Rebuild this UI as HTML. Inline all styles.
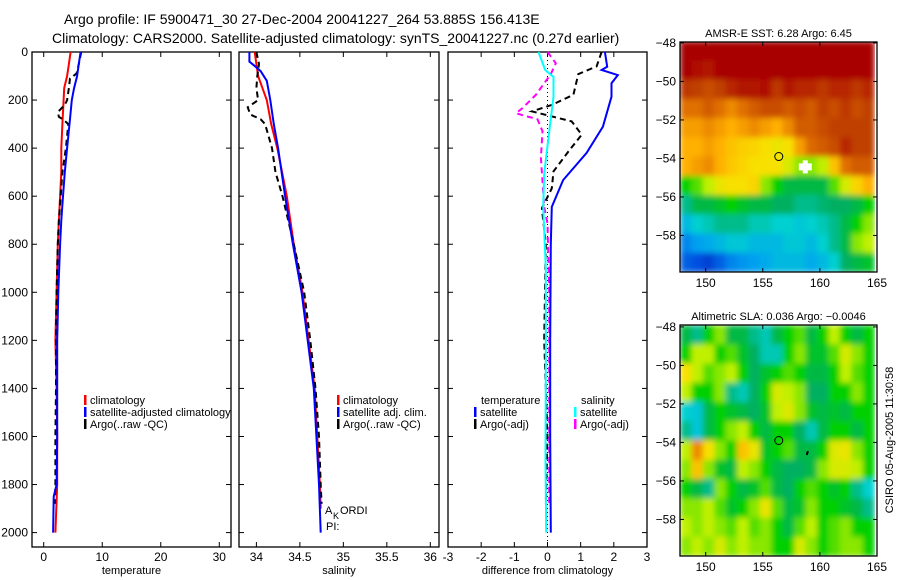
<!DOCTYPE html>
<html><head><meta charset="utf-8"><style>
body{margin:0;background:#fff;}
svg{display:block;font-family:"Liberation Sans",sans-serif;}
</style></head><body>
<svg id="fig" width="900" height="580" viewBox="0 0 900 580" xmlns="http://www.w3.org/2000/svg">
<defs><filter id="smooth" x="0" y="0" width="1" height="1"><feGaussianBlur stdDeviation="3" edgeMode="duplicate"/></filter></defs>
<rect x="0" y="0" width="900" height="580" fill="#fff"/>
<text x="64" y="24" font-size="14">Argo profile: IF 5900471_30 27-Dec-2004 20041227_264 53.885S 156.413E</text>
<text x="52" y="43" font-size="14">Climatology: CARS2000. Satellite-adjusted climatology: synTS_20041227.nc (0.27d earlier)</text>
<g id="g"></g>
<text transform="translate(893,440) rotate(-90)" text-anchor="middle" font-size="11">CSIRO 05-Aug-2005 11:30:58</text>
</svg>
<script>
// ---------- profile data ----------
const tClimD=[0,50,100,150,200,300,400,500,600,700,800,1000,1200,1400,1600,1800,2000];
const tClimV=[4.6,4.3,4.0,3.5,3.4,3.2,3.0,3.0,2.8,2.6,2.4,2.2,2.0,2.2,2.3,2.3,2.0];
const tSatD=[0,50,100,150,200,300,400,500,600,700,800,1000,1200,1400,1600,1800,1850,2000];
const tSatV=[6.3,6.0,5.7,5.2,4.8,4.4,4.0,3.6,3.3,3.0,2.8,2.5,2.3,2.3,2.3,2.2,1.7,1.6];
const tArgD=[0,50,90,110,150,200,220,250,270,280,300,400,500,600,700,800,1000,1200,1400,1600,1800,1880];
const tArgV=[6.4,6.0,5.6,4.5,4.3,4.0,3.6,2.4,2.6,3.3,4.2,3.8,3.2,2.9,2.6,2.4,2.2,2.1,2.1,2.0,2.0,1.9];
const sClimD=[0,100,200,300,400,600,800,1000,1200,1400,1600,1800,1900];
const sClimV=[33.98,34.02,34.12,34.17,34.24,34.35,34.43,34.53,34.6,34.67,34.7,34.73,34.74];
const sSatD=[0,40,55,80,120,200,300,400,600,800,1000,1200,1400,1600,1800,2000];
const sSatV=[33.92,33.92,33.97,34.05,34.12,34.16,34.2,34.25,34.33,34.42,34.52,34.59,34.66,34.69,34.72,34.74];
const sArgD=[0,50,100,150,200,230,260,280,300,400,500,600,800,1000,1200,1400,1600,1800,1880];
const sArgV=[34.0,34.03,34.01,34.0,34.02,33.9,33.93,34.05,34.1,34.18,34.22,34.3,34.43,34.55,34.62,34.68,34.72,34.74,34.75];
const dTSatD=[0,61,75,96,130,186,311,420,533,644,800,1200,1600,2000];
const dTSatV=[1.73,1.8,1.63,2.12,1.93,1.93,1.67,1.18,0.47,0.13,0.1,0.08,0.08,0.1];
const dTArgD=[0,60,92,178,220,247,289,344,414,497,567,650,800,1200,1600,1880];
const dTArgV=[1.63,1.48,0.93,0.78,0.13,-0.47,0.73,1.03,0.63,0.18,0.13,-0.17,-0.05,-0.1,0.0,-0.05];
const dSSatD=[0,75,103,186,297,505,644,900,1300,1700,2000];
const dSSatV=[-0.27,-0.07,0.18,0.18,0.08,-0.1,-0.13,-0.05,-0.05,-0.06,-0.04];
const dSArgD=[0,47,92,178,233,255,280,330,440,644,714,1000,1400,1880];
const dSArgV=[0.0,0.25,0.1,-0.35,-0.75,-0.95,-0.3,-0.15,-0.2,-0.1,0.0,0.05,0.05,0.05];
const tempTicks=[0,10,20,30];
const salTicks=[34,34.5,35,35.5,36];
const salTickLabels=["34","34.5","35","35.5","36"];
const diffTicks=[-3,-2,-1,0,1,2,3];
const depthTicks=[0,200,400,600,800,1000,1200,1400,1600,1800,2000];
// ---------- map data (1-degree cells, rows lat -48..-59, cols lon 148..164) ----------
const mapLons=[148,149,150,151,152,153,154,155,156,157,158,159,160,161,162,163,164];
const mapLats=[-48,-49,-50,-51,-52,-53,-54,-55,-56,-57,-58,-59];
const sstGrid=[
[1,1,1,1,1,1,1,1,1,1,1,1,1,1,1,1,1],
[1,0.98,0.97,1,1,1,1,1,1,1,1,1,1,1,1,1,1],
[0.93,0.92,0.9,0.92,0.95,0.97,0.97,0.98,0.93,0.97,0.95,0.95,0.93,0.95,0.95,0.93,0.95],
[0.85,0.85,0.88,0.85,0.82,0.85,0.88,0.9,0.9,0.88,0.9,0.88,0.92,0.9,0.93,0.9,0.92],
[0.8,0.8,0.82,0.8,0.78,0.8,0.82,0.8,0.78,0.82,0.88,0.88,0.9,0.92,0.92,0.92,0.92],
[0.78,0.78,0.8,0.78,0.75,0.73,0.72,0.7,0.68,0.7,0.8,0.86,0.88,0.9,0.95,0.92,0.92],
[0.78,0.8,0.82,0.78,0.74,0.72,0.7,0.7,0.7,0.65,0.6,0.6,0.62,0.75,0.85,0.88,0.88],
[0.55,0.58,0.62,0.68,0.7,0.7,0.72,0.6,0.55,0.5,0.5,0.5,0.5,0.58,0.65,0.72,0.78],
[0.45,0.5,0.5,0.52,0.55,0.52,0.5,0.5,0.48,0.48,0.45,0.45,0.47,0.48,0.48,0.5,0.55],
[0.35,0.4,0.42,0.45,0.45,0.45,0.42,0.42,0.4,0.4,0.38,0.4,0.42,0.45,0.5,0.55,0.6],
[0.25,0.3,0.32,0.35,0.38,0.38,0.35,0.35,0.35,0.38,0.38,0.35,0.4,0.45,0.5,0.6,0.62],
[0.18,0.15,0.12,0.18,0.25,0.28,0.3,0.32,0.35,0.35,0.35,0.32,0.35,0.4,0.48,0.5,0.52]];
const slaGrid=[
[0.5,0.45,0.55,0.6,0.5,0.5,0.45,0.42,0.5,0.55,0.58,0.5,0.55,0.62,0.55,0.5,0.55],
[0.55,0.62,0.62,0.55,0.58,0.52,0.48,0.42,0.42,0.55,0.6,0.52,0.52,0.58,0.65,0.6,0.55],
[0.7,0.62,0.58,0.6,0.62,0.55,0.48,0.52,0.55,0.58,0.55,0.5,0.5,0.55,0.62,0.58,0.55],
[0.62,0.55,0.55,0.6,0.45,0.42,0.48,0.55,0.65,0.62,0.6,0.48,0.48,0.55,0.55,0.6,0.55],
[0.4,0.38,0.5,0.55,0.52,0.5,0.48,0.52,0.62,0.66,0.6,0.52,0.5,0.52,0.5,0.55,0.55],
[0.45,0.38,0.5,0.55,0.6,0.62,0.55,0.5,0.55,0.55,0.48,0.42,0.5,0.55,0.55,0.5,0.55],
[0.62,0.82,0.7,0.6,0.55,0.75,0.68,0.52,0.55,0.58,0.5,0.5,0.55,0.66,0.68,0.6,0.55],
[0.6,0.75,0.6,0.52,0.5,0.62,0.6,0.55,0.5,0.48,0.48,0.5,0.6,0.65,0.65,0.62,0.55],
[0.55,0.5,0.45,0.6,0.55,0.5,0.52,0.58,0.5,0.48,0.55,0.58,0.55,0.52,0.55,0.45,0.4],
[0.6,0.6,0.62,0.58,0.52,0.55,0.6,0.68,0.58,0.5,0.52,0.6,0.55,0.55,0.52,0.5,0.45],
[0.62,0.6,0.62,0.6,0.58,0.62,0.58,0.6,0.55,0.5,0.58,0.62,0.55,0.58,0.6,0.55,0.55],
[0.6,0.62,0.6,0.65,0.6,0.62,0.6,0.6,0.55,0.55,0.65,0.6,0.55,0.58,0.6,0.6,0.55]];
const lonTicks=[150,155,160,165];
const latTicks=[-48,-50,-52,-54,-56,-58];
const floatLon=[156.4], floatLat=[-53.9];

const NS="http://www.w3.org/2000/svg";
const G=document.getElementById('g');
function mk(tag,attrs,parent){const e=document.createElementNS(NS,tag);for(const k in attrs)e.setAttribute(k,attrs[k]);(parent||G).appendChild(e);return e;}
function txt(s,x,y,size,anchor,parent){const t=mk('text',{x:x,y:y,'font-size':size,'text-anchor':anchor||'start'},parent);t.textContent=s;return t;}

const Y0=52,PY=0.2403;
function yD(d){return Y0+d*PY;}
const BOT=547;

function panel(name,x0,x1,vmin,vmax,ticks,labels,xlabel,showDepth){
  const g=mk('g',{});
  
  
  const sx=v=>x0+(v-vmin)/(vmax-vmin)*(x1-x0);
  const fr=mk('rect',{x:x0,y:Y0,width:x1-x0,height:BOT-Y0,fill:'none',stroke:'#000','stroke-width':1.3},g);
  
  
  ticks.forEach((t,i)=>{
    const x=sx(t);
    mk('line',{x1:x,x2:x,y1:BOT,y2:BOT-5,stroke:'#000'},g);
    mk('line',{x1:x,x2:x,y1:Y0,y2:Y0+5,stroke:'#000'},g);
    const l=txt(labels[i],x,561,12,'middle',g);
    
    
  });
  depthTicks.forEach(d=>{
    mk('line',{x1:x0,x2:x0+5,y1:yD(d),y2:yD(d),stroke:'#000'},g);
    mk('line',{x1:x1,x2:x1-5,y1:yD(d),y2:yD(d),stroke:'#000'},g);
    if(showDepth){const l=txt(String(d),x0-4,yD(d)+4,12,'end',g);
      
      }
  });
  const xl=txt(xlabel,(x0+x1)/2,574,11,'middle',g);
  
  
  return {g,sx};
}
function line(p,ds,vs,color,dash,name){
  const pts=ds.map((d,i)=>p.sx(vs[i]).toFixed(1)+','+yD(d).toFixed(1)).join(' ');
  const pl=mk('polyline',{points:pts,fill:'none',stroke:color,'stroke-width':2,'stroke-dasharray':dash||'none'},p.g);
  
  
}
function legend(p,x,y,color,label,name){
  const m=mk('rect',{x:x,y:y-9,width:2.5,height:10,fill:color},p.g);
  
  
  const t=txt(label,x+6,y,11,'start',p.g);
  
  
}
// Panel 1
const p1=panel('temperature-panel',32,231,-2,32,tempTicks,tempTicks.map(String),'temperature',true);
line(p1,tClimD,tClimV,'#f00',null,'temp-climatology-line');
line(p1,tArgD,tArgV,'#000','6,4','temp-argo-line');
line(p1,tSatD,tSatV,'#00f',null,'temp-satellite-line');
legend(p1,84,404,'#f00','climatology','legend-climatology');
legend(p1,84,416,'#00f','satellite-adjusted climatology','legend-satellite');
legend(p1,84,428,'#000','Argo(..raw -QC)','legend-argo');
// Panel 2
const p2=panel('salinity-panel',239,439,33.8,36.1,salTicks,salTickLabels,'salinity',false);
line(p2,sClimD,sClimV,'#f00',null,'sal-climatology-line');
line(p2,sArgD,sArgV,'#000','6,4','sal-argo-line');
line(p2,sSatD,sSatV,'#00f',null,'sal-satellite-line');
legend(p2,337,404,'#f00','climatology','legend-sal-climatology');
legend(p2,337,416,'#00f','satellite adj. clim.','legend-sal-satellite');
legend(p2,337,428,'#000','Argo(..raw -QC)','legend-sal-argo');
const ak=txt('A',325,514,11,'start',p2.g);
const ak2=txt('K',333,519,9,'start',p2.g);
const ak3=txt('ORDI',340,514,11,'start',p2.g);
const pi=txt('PI:',326,530,11,'start',p2.g);
// Panel 3
const p3=panel('difference-panel',448,647,-3,3,diffTicks,diffTicks.map(String),'difference from climatology',false);
const zl=mk('line',{x1:p3.sx(0),x2:p3.sx(0),y1:Y0,y2:BOT,stroke:'#000','stroke-dasharray':'1,3'},p3.g);

line(p3,dTArgD,dTArgV,'#000','6,4','diff-temp-argo-line');
line(p3,dSArgD,dSArgV,'#f0f','6,4','diff-sal-argo-line');
line(p3,dTSatD,dTSatV,'#00f',null,'diff-temp-satellite-line');
line(p3,dSSatD,dSSatV,'#0ff',null,'diff-sal-satellite-line');
const lt=txt('temperature',481,404,11,'start',p3.g);
legend(p3,474,416,'#00f','satellite','legend-diff-temp-satellite');
legend(p3,474,428,'#000','Argo(-adj)','legend-diff-temp-argo');
const ls=txt('salinity',581,404,11,'start',p3.g);
legend(p3,574,416,'#0ff','satellite','legend-diff-sal-satellite');
legend(p3,574,428,'#f0f','Argo(-adj)','legend-diff-sal-argo');

// ---------- maps ----------
const stops=[[0,[0,16,160]],[0.15,[0,80,224]],[0.3,[0,160,240]],[0.4,[0,208,208]],[0.48,[0,176,96]],[0.55,[0,208,0]],[0.62,[192,240,0]],[0.7,[248,224,0]],[0.78,[255,176,0]],[0.85,[224,112,0]],[0.92,[192,64,0]],[1,[168,0,0]]];
function cmap(v){for(let i=1;i<stops.length;i++){if(v<=stops[i][0]){const a=stops[i-1],b=stops[i],f=(v-a[0])/(b[0]-a[0]);const c=a[1].map((x,k)=>Math.round(x+(b[1][k]-x)*f));return 'rgb('+c.join(',')+')';}}return 'rgb(168,0,0)';}
function map(name,top,bot,latTop,grid,title){
  const x0=680,x1=877,lonMin=147.75,lonMax=165,latBot=-59.9;
  const g=mk('g',{});
  
  
  const sx=lo=>x0+(lo-lonMin)/(lonMax-lonMin)*(x1-x0);
  const sy=la=>top+(latTop-la)/(latTop-latBot)*(bot-top);
  const cp=mk('clipPath',{id:name+'-clip'},g);mk('rect',{x:x0,y:top,width:x1-x0,height:bot-top},cp);
  const outer=mk('g',{'clip-path':'url(#'+name+'-clip)'},g);
  const cg=mk('g',{filter:'url(#smooth)'},outer);
  mapLats.forEach((la,r)=>mapLons.forEach((lo,c)=>{
    const xa=sx(lo-0.25),ya=sy(la+0.1);
    const cell=mk('rect',{x:xa.toFixed(1),y:ya.toFixed(1),width:(sx(lo+1)-sx(lo)+0.6).toFixed(1),height:(sy(la-1)-sy(la)+0.6).toFixed(1),fill:cmap(grid[r][c])},cg);
    
    
  }));
  const fr=mk('rect',{x:x0,y:top,width:x1-x0,height:bot-top,fill:'none',stroke:'#000','stroke-width':1.3},g);
  
  lonTicks.forEach(lo=>{const x=sx(lo);mk('line',{x1:x,x2:x,y1:bot,y2:bot-4,stroke:'#000'},g);mk('line',{x1:x,x2:x,y1:top,y2:top+4,stroke:'#000'},g);
    const l=txt(String(lo),x,bot+15,12,'middle',g);});
  latTicks.forEach(la=>{const y=sy(la);mk('line',{x1:x0,x2:x0+4,y1:y,y2:y,stroke:'#000'},g);mk('line',{x1:x1,x2:x1-4,y1:y,y2:y,stroke:'#000'},g);
    const l=txt('\u2212'+String(-la),x0-4,y+4,12,'end',g);});
  const t=txt(title,(x0+x1)/2,top-5,11,'middle',g);
  const c=mk('circle',{cx:sx(floatLon[0]),cy:sy(floatLat[0]),r:4,fill:'none',stroke:'#000','stroke-width':1},g);
  
  return {g,sx,sy};
}
const m1=map('sst-map',42,272,-47.95,sstGrid,'AMSR-E SST: 6.28 Argo: 6.45');
const wb=mk('path',{d:'M'+(m1.sx(158.5))+' '+m1.sy(-54.1)+' h5 v3 h4 v7 h-4 v3 h-5 v-3 h-4 v-7 h4 z',fill:'#fff'},m1.g);

const m2=map('sla-map',325,556,-47.9,slaGrid,'Altimetric SLA: 0.036 Argo: \u22120.0046');
const tk=mk('line',{x1:m2.sx(158.95),y1:m2.sy(-54.45),x2:m2.sx(158.85),y2:m2.sy(-54.65),stroke:'#000','stroke-width':2},m2.g);

</script>
</body></html>
